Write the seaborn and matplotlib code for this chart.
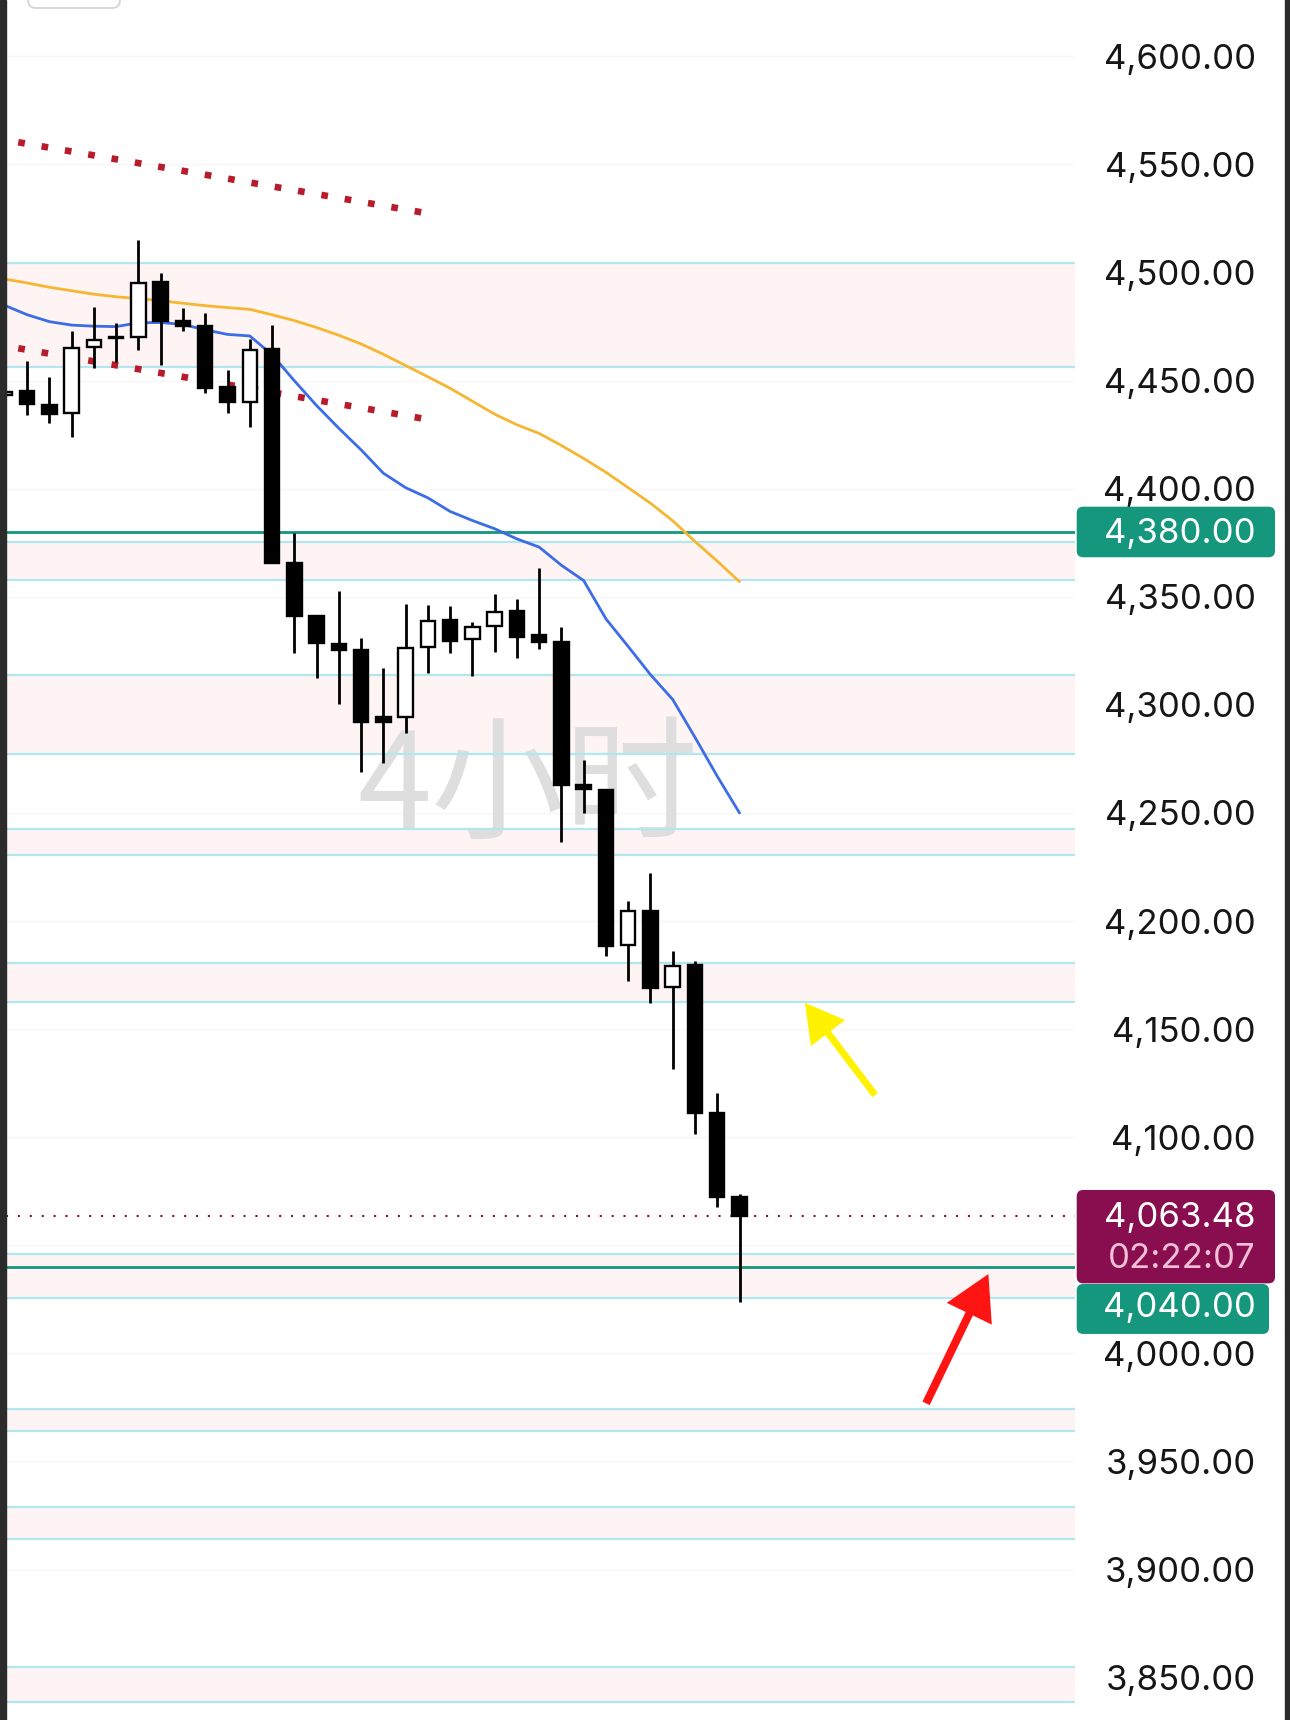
import numpy as np
import pandas as pd
import seaborn as sns
import matplotlib.pyplot as plt
from matplotlib import transforms
from matplotlib.patches import FancyBboxPatch, Rectangle

# ---- 4h candles (candle index 1..34) ----
opens = [4443.4, 4445.4, 4438.9, 4434.9, 4465.7, 4469.9, 4470.4, 4495.5, 4477.7, 4475.3,
         4446.9, 4440.3, 4464.6, 4365.5, 4341.3, 4328.2, 4325.4, 4294.2, 4294.6, 4326.9,
         4339.3, 4330.3, 4336.5, 4343.6, 4332.3, 4328.9, 4262.9, 4260.6, 4188.9, 4204.8,
         4169.3, 4179.7, 4111.4, 4072.2]
highs = [4468.0, 4459.2, 4451.9, 4473.1, 4483.9, 4476.8, 4515.1, 4499.6, 4483.5, 4481.1,
         4454.9, 4469.1, 4475.7, 4379.4, 4341.6, 4352.8, 4330.8, 4316.9, 4346.5, 4346.2,
         4345.8, 4338.5, 4351.3, 4348.8, 4363.2, 4335.9, 4274.5, 4260.6, 4209.3, 4222.1,
         4186.2, 4181.5, 4120.3, 4073.7]
lows = [4427.2, 4434.1, 4430.6, 4424.1, 4455.7, 4458.8, 4464.2, 4457.2, 4473.1, 4444.4,
        4435.2, 4428.7, 4365.5, 4323.9, 4312.3, 4300.4, 4269.1, 4273.3, 4286.9, 4314.9,
        4323.9, 4313.4, 4324.6, 4321.5, 4325.7, 4236.7, 4250.1, 4183.8, 4172.5, 4162.0,
        4131.4, 4101.3, 4067.6, 4023.9]
closes = [4444.9, 4439.2, 4434.6, 4465.3, 4468.8, 4470.3, 4495.3, 4477.7, 4475.3, 4446.7,
          4440.0, 4464.2, 4365.5, 4341.3, 4328.5, 4325.4, 4291.9, 4291.9, 4326.5, 4339.0,
          4329.7, 4336.2, 4343.1, 4331.6, 4329.2, 4262.9, 4260.9, 4188.6, 4204.7, 4168.9,
          4179.2, 4111.4, 4072.2, 4063.48]

# moving averages (blue = fast, orange = slow)
ma_fast = [4484.8, 4480.5, 4477.3, 4475.7, 4475.2, 4475.0, 4476.8, 4476.9, 4476.0, 4473.5,
           4471.4, 4470.7, 4462.0, 4450.0, 4438.5, 4428.0, 4418.0, 4407.2, 4400.5, 4395.8,
           4389.5, 4385.3, 4381.5, 4376.8, 4373.0, 4364.6, 4357.5, 4339.8, 4327.0, 4314.0,
           4302.5, 4285.0, 4267.0, 4250.0]
ma_slow = [4497.0, 4495.2, 4493.2, 4491.6, 4490.0, 4488.8, 4488.0, 4487.0, 4485.8, 4484.7,
           4483.8, 4483.0, 4480.5, 4477.8, 4474.6, 4471.0, 4467.0, 4462.2, 4457.0, 4451.8,
           4446.5, 4440.5, 4434.5, 4429.6, 4425.6, 4420.0, 4414.0, 4407.6, 4400.5, 4393.3,
           4385.2, 4375.6, 4366.5, 4357.0]

# horizontal zones (upper, lower), key levels, channel
zone_tops = [4504.3, 4375.3, 4313.9, 4242.4, 4180.6, 4045.9, 3974.5, 3928.9, 3854.7]
zone_bottoms = [4456.5, 4357.8, 4277.5, 4230.6, 4162.6, 4025.5, 3963.9, 3914.2, 3838.5]
key_levels = [4380.0, 4040.0]
last_price = 4063.48
countdown = '02:22:07'
channel_x = [1.6, 19.7]
channel_upper = [4560.3, 4527.9]
channel_lower = [4465.0, 4432.6]
price_ticks = list(range(3850, 4601, 50))
watermark = '4小时'

sns.set_theme(style='white')
plt.rcParams['font.family'] = ['Inter', 'DejaVu Sans']

W, H = 1290, 1720
fig = plt.figure(figsize=(W / 100, H / 100), dpi=100)
fig.patch.set_facecolor('white')
ax = fig.add_axes([6 / W, 0, 1069 / W, 1])
ax.set_xlim(1.05, 49.07)
ax.set_ylim(3830.4, 4626.1)
for s in ax.spines.values():
    s.set_visible(False)

idx = np.arange(1, len(opens) + 1)
df = pd.DataFrame({'k': idx, 'open': opens, 'high': highs, 'low': lows,
                   'close': closes, 'fast': ma_fast, 'slow': ma_slow})

# faint grid
for t in price_ticks:
    ax.axhline(t, color='#f7f7f7', lw=1, zorder=0.2)

# zones
for top, bot in zip(zone_tops, zone_bottoms):
    ax.axhspan(bot, top, color='#fef4f4', lw=0, zorder=0.5)
ax.text(0.4883, 0.5407, watermark, transform=ax.transAxes, fontsize=96,
        color='#dedede', ha='center', va='center',
        family=['Noto Sans CJK SC', 'DejaVu Sans'], zorder=0.8)
for top, bot in zip(zone_tops, zone_bottoms):
    ax.axhline(top, color='#b3e6ee', lw=1.6, zorder=1)
    ax.axhline(bot, color='#b3e6ee', lw=1.6, zorder=1)
for lv in key_levels:
    ax.axhline(lv, color='#14977d', lw=2.0, zorder=1.2)

# channel (dotted)
for ys in (channel_upper, channel_lower):
    ax.plot(channel_x, ys, color='#b71c2c', lw=4.8, ls=(0, (1, 2.55)),
            dash_capstyle='butt', zorder=2)

# last price line
ax.axhline(last_price, color='#880e4f', lw=1.5, ls=(0, (1, 4.7)), zorder=2)

# moving averages
sns.lineplot(data=df, x='k', y='slow', color='#f7b631', lw=2, ax=ax, zorder=3)
sns.lineplot(data=df, x='k', y='fast', color='#3c6ce6', lw=2, ax=ax, zorder=3)

# candles
up = df['close'] >= df['open']
bottoms = np.minimum(df['open'], df['close'])
heights = np.maximum((df['close'] - df['open']).abs(), 0.3)
ax.vlines(df['k'], df['low'], df['high'], color='black', lw=2.0, zorder=4)
ax.bar(df['k'], heights, bottom=bottoms, width=0.65,
       color=np.where(up, 'white', 'black'), edgecolor='black', linewidth=1.7, zorder=5)

# arrows
ax.annotate('', xy=(36.94, 4162.2), xytext=(40.09, 4119.5),
            arrowprops=dict(arrowstyle='simple,head_length=2.74,head_width=3.1,tail_width=0.5',
                            mutation_scale=10, color='#fff200', lw=0, shrinkA=0, shrinkB=0),
            zorder=6)
ax.annotate('', xy=(45.18, 4036.7), xytext=(42.38, 3976.9),
            arrowprops=dict(arrowstyle='simple,head_length=3.17,head_width=3.6,tail_width=0.58',
                            mutation_scale=10, color='#ff1414', lw=0, shrinkA=0, shrinkB=0),
            zorder=6)

# right price scale (4,050 sits under the price boxes, so it is left blank)
ax.set_xticks([])
ax.yaxis.tick_right()
ax.set_yticks(price_ticks)
ax.set_yticklabels(['' if t == 4050 else f'{t:,.2f}' for t in price_ticks])
ax.tick_params(axis='y', length=0, pad=130.3, labelsize=25, labelcolor='#161616')
for lab in ax.get_yticklabels():
    lab.set_horizontalalignment('right')
ax.set_ylabel('')
ax.set_xlabel('')

trans = transforms.blended_transform_factory(ax.transAxes, ax.transData)
aspect = 1069 / 2.1617


def price_box(y0, y1, x1, color):
    box = FancyBboxPatch((1.0016, y0), x1 - 1.0016, y1 - y0,
                         boxstyle='round,pad=0,rounding_size=0.006', mutation_aspect=aspect,
                         transform=trans, fc=color, ec='none', clip_on=False, zorder=10)
    ax.add_patch(box)


def box_text(y, s, color):
    ax.text(1.1693, y, s, transform=trans, ha='right', va='baseline', fontsize=25,
            color=color, clip_on=False, zorder=11)


price_box(4368.3, 4391.7, 1.1871, '#14977d')
box_text(4374.9, f'{key_levels[0]:,.2f}', 'white')
price_box(4032.4, 4075.6, 1.1871, '#880e4f')
box_text(4058.6, f'{last_price:,.2f}', 'white')
box_text(4039.4, countdown, '#f3bfd6')
price_box(4009.0, 4032.1, 1.1815, '#14977d')
box_text(4017.0, f'{key_levels[1]:,.2f}', 'white')

# screenshot edges and the clipped button at the top
fig.add_artist(Rectangle((0, 0), 6 / W, 1, transform=fig.transFigure,
                         color='#2b2b2b', zorder=20))
fig.add_artist(Rectangle((1285 / W, 0), 5 / W, 1, transform=fig.transFigure,
                         color='#2b2b2b', zorder=20))
fig.add_artist(FancyBboxPatch((0.28, 17.12), 0.92, 0.5, boxstyle='round,pad=0,rounding_size=0.08',
                              transform=fig.dpi_scale_trans, fc='white', ec='#d4d4d4',
                              lw=1.3, zorder=20))

fig.savefig('out.png', dpi=100)
